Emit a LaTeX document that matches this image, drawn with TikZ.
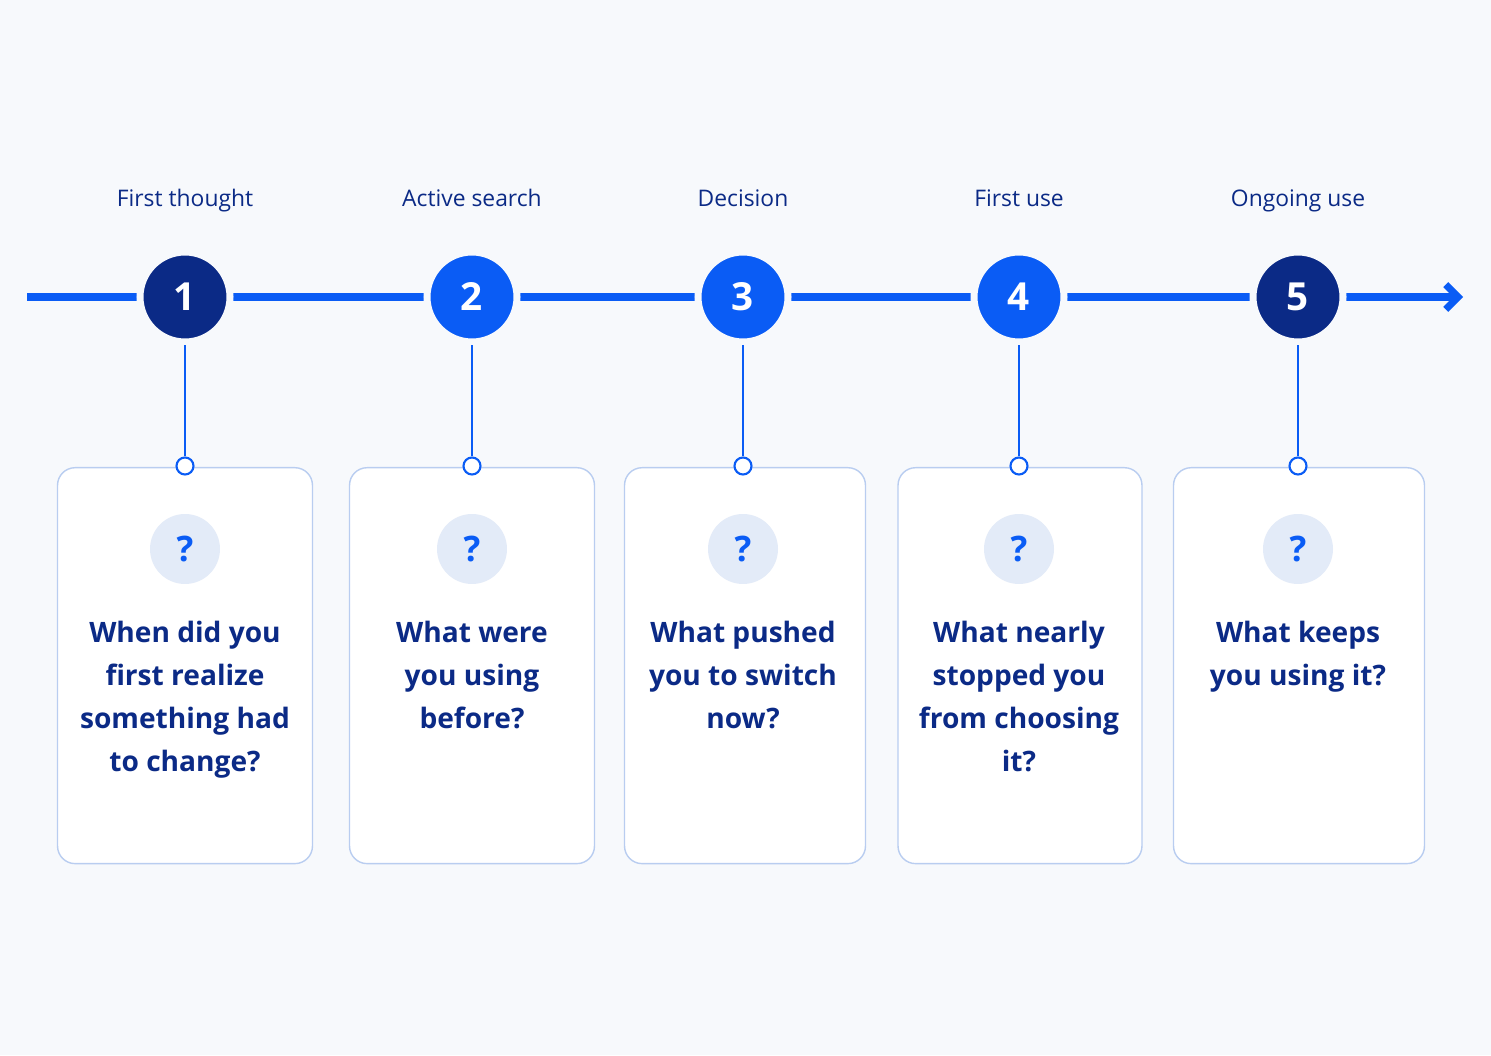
\documentclass[tikz,border=0pt]{standalone}
\usepackage{fontspec}
\setmainfont{Open Sans}
\usetikzlibrary{arrows.meta,positioning}
\definecolor{bg}{HTML}{F7F9FC}
\definecolor{navy}{HTML}{0B2A86}
\definecolor{bright}{HTML}{0A5CF5}
\definecolor{edgeblue}{HTML}{B9CDF0}
\definecolor{qfill}{HTML}{E3EBF8}
\tikzstyle{step dark}=[circle,fill=navy,draw=bg,line width=4pt,minimum size=1.8cm,text=white,font=\fontsize{22}{22}\selectfont\bfseries]
\tikzstyle{step light}=[step dark,fill=bright]
\tikzstyle{stage}=[text=navy,font=\fontsize{13}{15}\selectfont,text height=1.7ex,text depth=.4ex]
\tikzstyle{card}=[draw=edgeblue,fill=white,rounded corners=10pt,line width=0.8pt,minimum height=7.92cm,anchor=north]
\tikzstyle{pin}=[circle,draw=bright,fill=white,line width=1.2pt,minimum size=0.34cm,inner sep=0pt]
\tikzstyle{ask}=[circle,fill=qfill,minimum size=1.4cm,text=bright,font=\fontsize{20}{20}\selectfont\bfseries]
\tikzstyle{question}=[text=navy,align=center,font=\fontsize{16}{24.4}\selectfont\bfseries,anchor=north]
\begin{document}
\begin{tikzpicture}[x=0.02cm,y=0.02cm]
  \fill[bg] (0,0) rectangle (1491,1055);
  \useasboundingbox (0,0) rectangle (1491,1055);

  \coordinate (start) at (27,758);
  \coordinate (end) at (1463,758);
  \draw[bright,line width=4pt,-{Straight Barb[length=7pt,width=14pt]}] (start) -- (end);

  \node[step dark] (1) at (185,758) {1};
  \node[step light] (2) at (472,758) {2};
  \node[step light] (3) at (743,758) {3};
  \node[step light] (4) at (1019,758) {4};
  \node[step dark] (5) at (1298,758) {5};

  \node[stage] (s1) at (185,855) {First thought};
  \node[stage] (s2) at (472,855) {Active search};
  \node[stage] (s3) at (743,855) {Decision};
  \node[stage] (s4) at (1019,855) {First use};
  \node[stage] (s5) at (1298,855) {Ongoing use};

  \node[card,minimum width=5.1cm] (c1) at (185,588) {};
  \node[card,minimum width=4.9cm] (c2) at (472,588) {};
  \node[card,minimum width=4.82cm] (c3) at (745,588) {};
  \node[card,minimum width=4.88cm] (c4) at (1020,588) {};
  \node[card,minimum width=5.02cm] (c5) at (1299,588) {};

  \node[pin] (p1) at (185,589) {};
  \node[pin] (p2) at (472,589) {};
  \node[pin] (p3) at (743,589) {};
  \node[pin] (p4) at (1019,589) {};
  \node[pin] (p5) at (1298,589) {};

  \path[draw=bright,line width=1.5pt]
  (1) -- (p1)
  (2) -- (p2)
  (3) -- (p3)
  (4) -- (p4)
  (5) -- (p5);

  \node[ask] (q1) at (185,506) {?};
  \node[ask] (q2) at (472,506) {?};
  \node[ask] (q3) at (743,506) {?};
  \node[ask] (q4) at (1019,506) {?};
  \node[ask] (q5) at (1298,506) {?};

  \node[question] (t1) [below = 0.62cm of q1] {When did you\\first realize\\something had\\to change?};
  \node[question] (t2) [below = 0.62cm of q2] {What were\\you using\\before?};
  \node[question] (t3) [below = 0.62cm of q3] {What pushed\\you to switch\\now?};
  \node[question] (t4) [below = 0.62cm of q4] {What nearly\\stopped you\\from choosing\\it?};
  \node[question] (t5) [below = 0.62cm of q5] {What keeps\\you using it?};
\end{tikzpicture}
\end{document}
